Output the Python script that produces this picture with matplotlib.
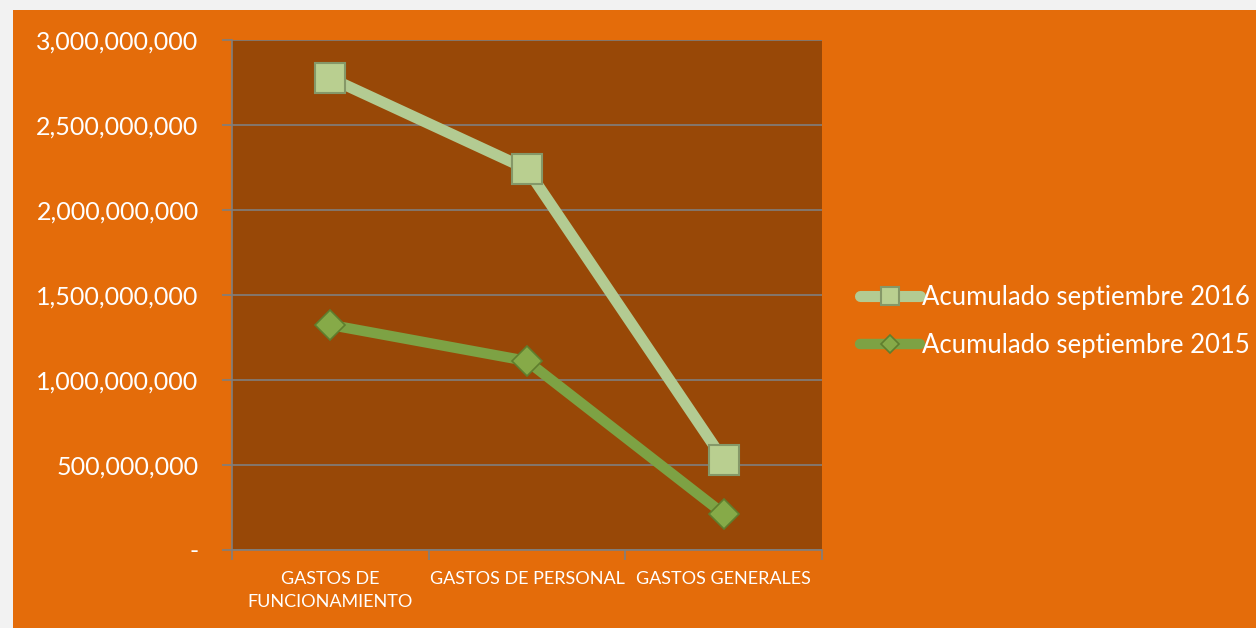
import matplotlib.pyplot as plt
from matplotlib.patches import Rectangle
from matplotlib.ticker import FuncFormatter, FixedLocator

# Data
categories = ['GASTOS DE\nFUNCIONAMIENTO', 'GASTOS DE PERSONAL', 'GASTOS GENERALES']
acum_2016 = [2776000000, 2241000000, 529000000]
acum_2015 = [1324000000, 1112000000, 212000000]
series_labels = ['Acumulado septiembre 2016', 'Acumulado septiembre 2015']

plt.rcParams['font.family'] = ['Lato', 'DejaVu Sans']

ORANGE = '#E46C0A'
PLOT_BG = '#984807'
GRID = '#7F7F7F'
LIGHT_GREEN = '#B3CB92'
GREEN = '#7DA244'

fig = plt.figure(figsize=(12.56, 6.28), dpi=100)
fig.patch.set_facecolor('#F2F2F2')
# orange chart area (page margin visible at top/left)
fig.patches.append(Rectangle((13 / 1256, 0), 1 - 13 / 1256, 1 - 10 / 628,
                             transform=fig.transFigure, facecolor=ORANGE,
                             edgecolor='none', zorder=-10))

ax = fig.add_axes([232 / 1256, 1 - 550 / 628, 590 / 1256, 510 / 628])
ax.set_facecolor(PLOT_BG)

x = list(range(len(categories)))

ax.plot(x, acum_2016, color=LIGHT_GREEN, linewidth=8, solid_capstyle='round',
        zorder=3, label=series_labels[0],
        marker='s', markersize=21, markerfacecolor='#B9CF90',
        markeredgecolor='#859868', markeredgewidth=1.5)
ax.plot(x, acum_2015, color=GREEN, linewidth=7.5, solid_capstyle='round',
        zorder=3, label=series_labels[1],
        marker='D', markersize=15.5, markerfacecolor='#86AA48',
        markeredgecolor='#5F7E2E', markeredgewidth=1.2)

ax.set_xlim(-0.5, len(categories) - 0.5)
ax.set_ylim(0, 3000000000)
ax.set_yticks([0, 500000000, 1000000000, 1500000000, 2000000000, 2500000000, 3000000000])
ax.yaxis.set_major_formatter(FuncFormatter(lambda v, p: '-' if v == 0 else f'{v:,.0f}'))
ax.grid(axis='y', color=GRID, linewidth=1.2)
ax.set_axisbelow(True)

ax.set_xticks(x)
ax.set_xticklabels(categories, fontsize=13, color='white', linespacing=1.55)
ax.xaxis.set_minor_locator(FixedLocator([-0.5, 0.5, 1.5, 2.5]))
ax.tick_params(axis='x', which='major', length=0, pad=15)
ax.tick_params(axis='x', which='minor', length=7, color=GRID, width=1.2)
ax.tick_params(axis='y', length=7, color=GRID, width=1.2, labelsize=18,
               labelcolor='white', pad=17)

for side in ['top', 'right']:
    ax.spines[side].set_visible(False)
for side in ['left', 'bottom']:
    ax.spines[side].set_color(GRID)
    ax.spines[side].set_linewidth(1.2)

leg = ax.legend(loc='center left', bbox_to_anchor=(1 + 38 / 590, 0.448), frameon=False,
                fontsize=18.5, labelcolor='white', handlelength=2.35,
                handletextpad=0.05, labelspacing=0.9, borderaxespad=0, borderpad=0)
for h in leg.legend_handles:
    h.set_markersize(h.get_markersize() * 0.6)

fig.savefig('out.png', dpi=100, facecolor=fig.get_facecolor())
